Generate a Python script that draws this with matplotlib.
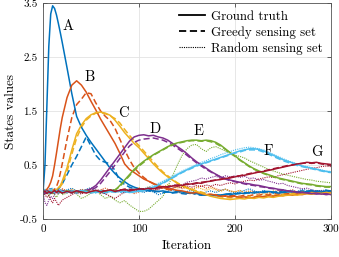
import matplotlib
matplotlib.use("Agg")
import matplotlib.pyplot as plt
from matplotlib.lines import Line2D

plt.rcParams['font.family'] = 'cmr10'
plt.rcParams['axes.formatter.use_mathtext'] = True
plt.rcParams['mathtext.fontset'] = 'cm'

# iteration grid shared by every series
iters = [0, 2, 4, 6, 8, 10, 12, 14, 16, 18, 20] + list(range(25, 301, 5))

labels = ["A", "B", "C", "D", "E", "F", "G"]
colors = ["#0072BD", "#D95319", "#EDB120", "#7E2F8E", "#77AC30", "#4DBEEE", "#A2142F"]
label_pos = [(26, 3.08), (49, 2.12), (84, 1.47), (117, 1.17), (162, 1.12), (235, 0.76), (285, 0.74)]

# ground truth
true_A = [0.0, 0.5, 1.6, 2.7, 3.3, 3.45, 3.4, 3.28, 3.12, 2.95, 2.77,
          2.3, 1.82, 1.4, 1.2, 1.05, 0.92, 0.8, 0.68, 0.56, 0.44, 0.34, 0.26, 0.19, 0.13, 0.09, 0.06,
          0.04, 0.03, 0.02, 0.01, 0.02, 0.0, -0.01, 0.01, 0.0, -0.02, -0.01, -0.03, -0.05, -0.06, -0.05, -0.07, -0.06, -0.04, -0.05, -0.03,
          -0.02, -0.03, -0.01, -0.02, 0.0, -0.01, 0.01, 0.0, -0.02, -0.01, 0.0, 0.01, 0.0, -0.01, 0.01, 0.02, 0.01, 0.0, 0.02, 0.01]
true_B = [0.0, 0.02, 0.05, 0.1, 0.18, 0.3, 0.5, 0.72, 0.95, 1.18, 1.38,
          1.75, 1.98, 2.06, 1.98, 1.85, 1.68, 1.52, 1.35, 1.2, 1.05, 0.9, 0.72, 0.52, 0.42, 0.36, 0.3,
          0.24, 0.2, 0.16, 0.12, 0.09, 0.06, 0.05, 0.03, 0.02, 0.0, -0.02, -0.01, -0.03, -0.05, -0.04, -0.06, -0.08, -0.07, -0.09, -0.08,
          -0.1, -0.09, -0.11, -0.1, -0.08, -0.09, -0.07, -0.08, -0.06, -0.07, -0.05, -0.06, -0.04, -0.05, -0.03, -0.04, -0.02, -0.03, -0.02, -0.01]
true_C = [0.0, 0.02, -0.01, 0.01, 0.0, 0.02, 0.01, 0.04, 0.08, 0.12, 0.2,
          0.45, 0.78, 1.08, 1.24, 1.36, 1.43, 1.47, 1.48, 1.46, 1.42, 1.33, 1.22, 1.1, 1.0, 0.9, 0.82,
          0.72, 0.62, 0.52, 0.43, 0.35, 0.28, 0.22, 0.16, 0.11, 0.07, 0.04, 0.01, -0.02, -0.05, -0.08, -0.1, -0.12, -0.13, -0.14, -0.13,
          -0.12, -0.13, -0.11, -0.12, -0.1, -0.11, -0.09, -0.1, -0.08, -0.07, -0.06, -0.05, -0.06, -0.04, -0.03, -0.04, -0.02, -0.03, -0.01, -0.02]
true_D = [0.0, -0.03, 0.02, -0.01, 0.03, 0.0, -0.02, 0.01, 0.03, 0.0, 0.02,
          0.01, -0.02, 0.02, 0.0, 0.03, 0.06, 0.12, 0.22, 0.34, 0.46, 0.58, 0.7, 0.82, 0.94, 1.02, 1.05,
          1.06, 1.04, 1.05, 1.02, 1.0, 0.96, 0.9, 0.84, 0.78, 0.71, 0.63, 0.56, 0.5, 0.44, 0.38, 0.33, 0.28, 0.25, 0.22, 0.2,
          0.18, 0.16, 0.15, 0.13, 0.12, 0.1, 0.08, 0.07, 0.05, 0.04, 0.02, 0.01, 0.0, -0.01, -0.02, -0.03, -0.02, -0.04, -0.03, -0.05]
true_E = [0.0, 0.02, -0.01, 0.01, 0.0, -0.02, 0.01, 0.0, 0.02, -0.01, 0.0,
          0.02, -0.01, 0.01, 0.0, 0.02, 0.0, 0.01, 0.02, 0.0, 0.03, 0.03, 0.12, 0.22, 0.32, 0.42, 0.5,
          0.57, 0.63, 0.69, 0.74, 0.79, 0.84, 0.88, 0.91, 0.93, 0.95, 0.96, 0.96, 0.95, 0.96, 0.95, 0.92, 0.87, 0.8, 0.73, 0.67,
          0.6, 0.54, 0.48, 0.43, 0.39, 0.35, 0.32, 0.29, 0.26, 0.24, 0.22, 0.2, 0.18, 0.16, 0.15, 0.14, 0.12, 0.11, 0.1, 0.1]
true_F = [0.0, 0.03, -0.02, 0.01, 0.04, 0.0, -0.01, 0.02, 0.0, 0.03, 0.01,
          -0.01, 0.02, 0.0, 0.03, 0.01, -0.02, 0.0, 0.02, -0.01, 0.01, 0.0, 0.02, 0.01, -0.01, 0.0, 0.02,
          0.03, 0.06, 0.09, 0.13, 0.17, 0.22, 0.27, 0.32, 0.37, 0.41, 0.45, 0.49, 0.52, 0.55, 0.58, 0.61, 0.64, 0.67, 0.7, 0.73,
          0.76, 0.78, 0.8, 0.8, 0.79, 0.76, 0.72, 0.68, 0.64, 0.6, 0.57, 0.54, 0.51, 0.48, 0.46, 0.44, 0.42, 0.4, 0.38, 0.37]
true_G = [0.0, 0.02, -0.03, 0.01, -0.02, 0.0, 0.03, -0.01, 0.02, 0.0, -0.02,
          0.01, -0.01, 0.02, 0.0, -0.02, 0.01, 0.03, 0.0, 0.02, 0.04, 0.01, 0.03, 0.05, 0.02, 0.04, 0.06,
          0.05, 0.07, 0.06, 0.08, 0.1, 0.09, 0.11, 0.13, 0.12, 0.14, 0.15, 0.17, 0.16, 0.19, 0.2, 0.22, 0.23, 0.25, 0.26, 0.28,
          0.3, 0.31, 0.33, 0.35, 0.37, 0.38, 0.4, 0.42, 0.44, 0.46, 0.48, 0.5, 0.52, 0.53, 0.55, 0.54, 0.55, 0.53, 0.52, 0.51]

# greedy sensing set estimates
greedy_A = [0.0, -0.02, 0.03, 0.01, -0.03, 0.02, 0.0, 0.04, 0.06, 0.1, 0.15,
            0.32, 0.5, 0.66, 0.84, 1.02, 0.85, 0.68, 0.58, 0.55, 0.52, 0.4, 0.2, 0.14, 0.09, 0.06, 0.04,
            0.03, 0.02, 0.0, 0.01, -0.01, 0.0, -0.02, -0.01, -0.03, -0.04, -0.02, -0.05, -0.06, -0.05, -0.07, -0.05, -0.06, -0.04, -0.03, -0.04,
            -0.03, -0.01, -0.02, 0.0, -0.01, 0.01, 0.0, -0.01, 0.01, 0.0, 0.02, 0.01, 0.0, 0.02, 0.01, 0.03, 0.02, 0.01, 0.03, 0.02]
greedy_B = [0.0, -0.02, 0.01, 0.03, 0.0, 0.02, 0.05, 0.1, 0.2, 0.35, 0.52,
            0.98, 1.38, 1.62, 1.72, 1.84, 1.82, 1.65, 1.5, 1.4, 1.32, 1.18, 0.98, 0.78, 0.6, 0.45, 0.35,
            0.27, 0.2, 0.15, 0.11, 0.07, 0.05, 0.03, 0.01, 0.0, -0.02, -0.03, -0.02, -0.04, -0.05, -0.06, -0.05, -0.07, -0.08, -0.06, -0.07,
            -0.08, -0.06, -0.07, -0.05, -0.06, -0.04, -0.05, -0.03, -0.04, -0.02, -0.03, -0.01, -0.02, 0.0, -0.01, 0.01, 0.0, -0.01, 0.01, 0.0]
greedy_C = [0.0, -0.01, 0.02, 0.0, 0.01, 0.03, 0.02, 0.05, 0.07, 0.1, 0.15,
            0.38, 0.7, 1.0, 1.2, 1.33, 1.41, 1.46, 1.47, 1.45, 1.41, 1.36, 1.28, 1.16, 1.05, 0.95, 0.86,
            0.76, 0.66, 0.56, 0.46, 0.37, 0.3, 0.23, 0.17, 0.12, 0.08, 0.05, 0.02, 0.0, -0.03, -0.05, -0.07, -0.09, -0.1, -0.11, -0.1,
            -0.09, -0.1, -0.08, -0.09, -0.07, -0.08, -0.06, -0.07, -0.05, -0.04, -0.05, -0.03, -0.04, -0.02, -0.03, -0.01, -0.02, 0.0, -0.01, 0.0]
greedy_D = [0.0, 0.02, -0.02, 0.01, -0.01, 0.02, 0.0, -0.03, 0.01, 0.02, 0.0,
            -0.01, 0.02, 0.0, 0.01, 0.02, 0.04, 0.08, 0.16, 0.27, 0.38, 0.5, 0.62, 0.74, 0.85, 0.92, 0.96,
            0.98, 0.99, 1.0, 0.98, 0.96, 0.92, 0.87, 0.81, 0.75, 0.68, 0.61, 0.54, 0.48, 0.42, 0.37, 0.32, 0.28, 0.24, 0.21, 0.19,
            0.17, 0.15, 0.13, 0.12, 0.1, 0.09, 0.07, 0.06, 0.04, 0.03, 0.02, 0.0, -0.01, -0.02, -0.01, -0.03, -0.04, -0.03, -0.05, -0.04]
greedy_E = [0.0, -0.01, 0.02, 0.0, 0.01, 0.02, -0.01, 0.01, 0.0, 0.02, 0.01,
            0.0, 0.02, 0.0, 0.01, -0.01, 0.01, 0.0, 0.01, 0.02, 0.02, 0.04, 0.1, 0.2, 0.3, 0.4, 0.48,
            0.55, 0.62, 0.68, 0.73, 0.78, 0.83, 0.87, 0.9, 0.92, 0.94, 0.95, 0.95, 0.94, 0.95, 0.93, 0.9, 0.85, 0.79, 0.72, 0.66,
            0.59, 0.53, 0.47, 0.42, 0.38, 0.34, 0.31, 0.28, 0.25, 0.23, 0.21, 0.19, 0.17, 0.15, 0.14, 0.13, 0.11, 0.1, 0.09, 0.09]
greedy_F = [0.0, -0.02, 0.02, 0.0, -0.01, 0.03, 0.01, 0.0, -0.02, 0.01, 0.02,
            0.0, 0.01, -0.02, 0.02, 0.0, 0.01, -0.01, 0.0, 0.02, 0.0, 0.01, -0.01, 0.02, 0.0, 0.01, 0.01,
            0.02, 0.05, 0.08, 0.12, 0.16, 0.21, 0.26, 0.31, 0.36, 0.4, 0.44, 0.48, 0.51, 0.54, 0.57, 0.6, 0.63, 0.66, 0.69, 0.72,
            0.74, 0.77, 0.78, 0.78, 0.77, 0.74, 0.7, 0.66, 0.62, 0.58, 0.55, 0.52, 0.49, 0.47, 0.45, 0.43, 0.41, 0.39, 0.37, 0.36]
greedy_G = [0.0, -0.02, 0.01, 0.03, 0.0, -0.02, 0.01, 0.02, -0.01, 0.01, 0.03,
            0.0, 0.02, -0.01, 0.01, 0.03, 0.0, 0.02, 0.04, 0.01, 0.03, 0.02, 0.04, 0.03, 0.05, 0.04, 0.05,
            0.06, 0.05, 0.07, 0.09, 0.08, 0.1, 0.12, 0.11, 0.13, 0.15, 0.14, 0.16, 0.18, 0.19, 0.21, 0.22, 0.24, 0.25, 0.27, 0.29,
            0.3, 0.32, 0.34, 0.36, 0.37, 0.39, 0.41, 0.43, 0.45, 0.47, 0.49, 0.5, 0.52, 0.53, 0.54, 0.53, 0.54, 0.52, 0.51, 0.5]

# random sensing set estimates
random_A = [0.0, 0.05, -0.03, 0.04, 0.08, 0.02, -0.04, 0.03, 0.06, 0.0, -0.02,
            0.04, 0.07, 0.02, -0.03, 0.05, 0.08, 0.03, 0.0, -0.04, 0.02, 0.05, 0.01, -0.02, 0.03, 0.06, 0.02,
            -0.01, 0.03, 0.0, -0.05, -0.02, 0.02, 0.04, 0.0, -0.03, 0.01, 0.03, -0.02, -0.04, 0.0, 0.02, -0.01, 0.03, 0.05, 0.01, -0.02,
            0.0, 0.03, 0.06, 0.02, -0.01, 0.03, 0.01, -0.03, 0.0, 0.04, 0.02, -0.01, 0.01, 0.05, 0.03, 0.0, -0.02, 0.02, 0.04, 0.01]
random_B = [0.0, -0.03, 0.02, 0.05, 0.01, -0.04, 0.0, 0.03, -0.02, 0.04, 0.06,
            0.02, -0.03, 0.01, 0.05, 0.03, -0.02, 0.0, 0.04, 0.07, 0.03, -0.01, 0.02, 0.05, 0.01, -0.03, 0.0,
            0.03, 0.06, 0.02, 0.05, 0.08, 0.04, 0.07, 0.1, 0.06, 0.09, 0.05, 0.08, 0.12, 0.07, 0.1, 0.06, 0.03, 0.05, 0.02, 0.0,
            0.03, -0.01, 0.02, 0.0, -0.03, 0.01, -0.02, 0.0, 0.03, -0.01, 0.02, 0.04, 0.0, 0.02, -0.02, 0.01, 0.03, 0.0, -0.01, 0.02]
random_C = [0.0, 0.04, 0.01, -0.03, 0.02, 0.05, 0.0, -0.02, 0.03, 0.01, 0.04,
            0.0, 0.05, 0.02, -0.02, 0.03, 0.06, 0.01, -0.03, 0.02, 0.04, 0.0, 0.03, 0.06, 0.02, 0.05, 0.08,
            0.05, 0.1, 0.07, 0.12, 0.09, 0.14, 0.1, 0.07, 0.11, 0.08, 0.05, 0.09, 0.06, 0.03, 0.07, 0.04, 0.01, 0.05, 0.02, 0.0,
            0.03, -0.02, 0.01, -0.03, 0.0, -0.04, -0.01, 0.02, -0.02, 0.0, -0.03, 0.01, -0.01, -0.04, 0.0, 0.02, -0.02, 0.0, -0.03, -0.01]
random_D = [0.0, -0.2, -0.25, -0.15, -0.08, -0.12, -0.05, 0.0, -0.04, 0.02, -0.03,
            0.01, 0.04, -0.02, 0.03, 0.0, 0.05, 0.02, -0.03, 0.01, 0.04, 0.0, 0.03, 0.06, 0.02, 0.05, 0.03,
            0.06, 0.04, 0.08, 0.05, 0.1, 0.07, 0.12, 0.15, 0.13, 0.18, 0.2, 0.22, 0.26, 0.24, 0.27, 0.29, 0.26, 0.3, 0.28, 0.3,
            0.27, 0.29, 0.25, 0.26, 0.22, 0.23, 0.2, 0.18, 0.15, 0.16, 0.12, 0.1, 0.08, 0.06, 0.07, 0.04, 0.02, 0.03, 0.0, 0.01]
random_E = [0.0, -0.05, 0.03, -0.08, -0.02, 0.04, -0.06, -0.1, -0.03, 0.02, -0.05,
            -0.02, 0.03, -0.04, -0.12, -0.08, -0.02, 0.03, -0.05, -0.12, -0.08, -0.15, -0.2, -0.16, -0.24, -0.3, -0.36,
            -0.36, -0.32, -0.24, -0.16, -0.08, 0.1, 0.3, 0.5, 0.68, 0.8, 0.87, 0.88, 0.8, 0.75, 0.82, 0.84, 0.8, 0.76, 0.7, 0.68,
            0.66, 0.63, 0.58, 0.54, 0.5, 0.46, 0.42, 0.39, 0.36, 0.33, 0.31, 0.29, 0.27, 0.25, 0.23, 0.22, 0.2, 0.19, 0.18, 0.17]
random_F = [0.0, 0.05, 0.02, -0.03, 0.04, 0.07, 0.02, -0.02, 0.03, 0.06, 0.01,
            0.04, 0.0, -0.03, 0.02, 0.05, 0.01, -0.02, 0.03, 0.0, 0.04, 0.02, -0.01, 0.03, 0.05, 0.02, 0.04,
            0.06, 0.09, 0.12, 0.16, 0.2, 0.25, 0.3, 0.34, 0.39, 0.43, 0.47, 0.51, 0.55, 0.58, 0.62, 0.65, 0.69, 0.72, 0.75, 0.78,
            0.8, 0.82, 0.83, 0.82, 0.8, 0.78, 0.74, 0.7, 0.66, 0.62, 0.58, 0.55, 0.52, 0.49, 0.47, 0.45, 0.43, 0.41, 0.39, 0.38]
random_G = [0.0, -0.05, -0.1, -0.06, -0.15, -0.2, -0.12, -0.18, -0.25, -0.2, -0.15,
            -0.1, -0.05, 0.0, -0.04, 0.02, -0.02, 0.03, 0.0, -0.03, -0.08, -0.12, -0.06, 0.0, 0.03, 0.01, 0.04,
            0.02, 0.05, 0.03, 0.06, 0.08, 0.05, 0.07, 0.1, 0.08, 0.11, 0.09, 0.12, 0.1, 0.13, 0.11, 0.14, 0.12, 0.15, 0.17, 0.15,
            0.18, 0.2, 0.22, 0.21, 0.24, 0.26, 0.28, 0.27, 0.3, 0.32, 0.34, 0.36, 0.38, 0.4, 0.42, 0.44, 0.45, 0.47, 0.48, 0.47]

truth = [true_A, true_B, true_C, true_D, true_E, true_F, true_G]
greedy = [greedy_A, greedy_B, greedy_C, greedy_D, greedy_E, greedy_F, greedy_G]
rand = [random_A, random_B, random_C, random_D, random_E, random_F, random_G]

fig = plt.figure(figsize=(3.39, 2.57), dpi=100)
ax = fig.add_axes([0.127, 0.148, 0.849, 0.840])

for c, ys in zip(colors, rand):
    ax.plot(iters, ys, color=c, lw=0.8, ls=(0, (1, 1)))
for c, ys in zip(colors, greedy):
    ax.plot(iters, ys, color=c, lw=1.1, ls=(0, (4, 2)))
for c, ys in zip(colors, truth):
    ax.plot(iters, ys, color=c, lw=1.1)

for lab, (x, y) in zip(labels, label_pos):
    ax.text(x, y, lab, fontsize=10.5, ha="center", va="center")

ax.set_xlim(0, 300)
ax.set_ylim(-0.5, 3.5)
ax.set_xticks([0, 100, 200, 300])
ax.set_xticklabels(["0", "100", "200", "300"])
ax.set_yticks([-0.5, 0.5, 1.5, 2.5, 3.5])
ax.set_yticklabels(["-0.5", "0.5", "1.5", "2.5", "3.5"])
ax.tick_params(direction="in", top=True, right=True, length=3, width=0.5,
               labelsize=8, color="#262626", pad=4)
ax.grid(True, color="#e3e3e3", lw=0.6)
ax.set_axisbelow(True)
for s in ax.spines.values():
    s.set_color("#555555")
    s.set_linewidth(0.6)

ax.set_xlabel("Iteration", fontsize=9.5, labelpad=4)
ax.set_ylabel("States values", fontsize=9.5, labelpad=2)

handles = [Line2D([], [], color="k", lw=1.3),
           Line2D([], [], color="k", lw=1.3, ls=(0, (4, 2))),
           Line2D([], [], color="k", lw=0.8, ls=(0, (1, 1)))]
ax.legend(handles, ["Ground truth", "Greedy sensing set", "Random sensing set"],
          loc="upper right", frameon=False, fontsize=9.3, handlelength=2.0,
          handletextpad=0.5, labelspacing=0.25, borderaxespad=0.2)

fig.savefig("out.png", dpi=100)
